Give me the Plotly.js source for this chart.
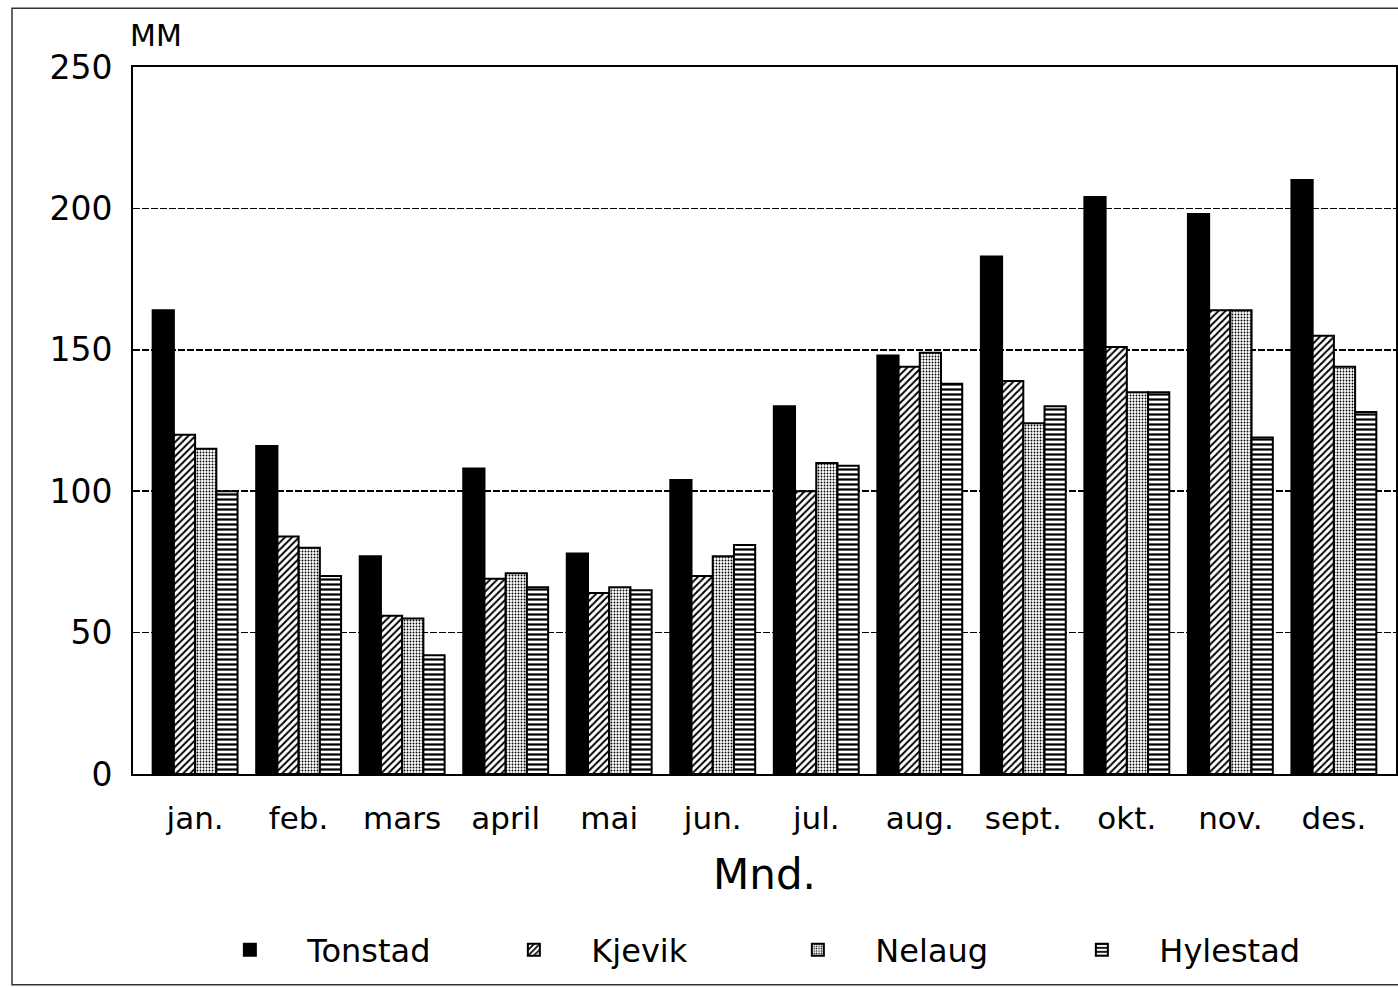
<!DOCTYPE html>
<html>
<head>
<meta charset="utf-8">
<script src="https://cdn.plot.ly/plotly-3.0.1.min.js"></script>
<style>html,body{margin:0;padding:0;background:#fff;}#chart{width:1398px;height:987px;}</style>
</head>
<body>
<div id="chart"></div>
<script>
const months = ["jan.", "feb.", "mars", "april", "mai", "jun.", "jul.", "aug.", "sept.", "okt.", "nov.", "des."];
const tonstad  = [164, 116, 77, 108, 78, 104, 130, 148, 183, 204, 198, 210];
const kjevik   = [120, 84, 56, 69, 64, 70, 100, 144, 139, 151, 164, 155];
const nelaug   = [115, 80, 55, 71, 66, 77, 110, 149, 124, 135, 164, 144];
const hylestad = [100, 70, 42, 66, 65, 81, 109, 138, 130, 135, 119, 128];
const yTicks = [0, 50, 100, 150, 200, 250];

const line = {color: '#000', width: 2};
const traces = [
  {name: 'Tonstad', x: months, y: tonstad, type: 'bar',
   marker: {color: '#000', line: line}},
  {name: 'Kjevik', x: months, y: kjevik, type: 'bar',
   marker: {color: '#fff', line: line,
     pattern: {shape: '/', fgcolor: '#000', bgcolor: '#fff', size: 5, solidity: 0.4, fillmode: 'replace'}}},
  {name: 'Nelaug', x: months, y: nelaug, type: 'bar',
   marker: {color: '#fff', line: line,
     pattern: {shape: '.', fgcolor: '#000', bgcolor: '#fff', size: 3, solidity: 0.3, fillmode: 'replace'}}},
  {name: 'Hylestad', x: months, y: hylestad, type: 'bar',
   marker: {color: '#fff', line: line,
     pattern: {shape: '-', fgcolor: '#000', bgcolor: '#fff', size: 5, solidity: 0.45, fillmode: 'replace'}}}
];

const FONT = '"DejaVu Sans", Verdana, sans-serif';
const layout = {
  width: 1398, height: 987,
  margin: {l: 133, r: 2, t: 67, b: 213, autoexpand: false},
  paper_bgcolor: '#fff', plot_bgcolor: '#fff',
  font: {family: FONT, color: '#000', size: 31},
  barmode: 'group', bargap: 0.18, bargroupgap: 0,
  xaxis: {
    type: 'category', range: [-0.6, 11.6], automargin: false,
    showline: true, linecolor: '#000', linewidth: 2, mirror: true,
    showgrid: false, ticks: '', tickfont: {size: 31}, ticklabelstandoff: 16,
    title: {text: 'Mnd.', font: {size: 42}, standoff: 24}
  },
  yaxis: {
    range: [0, 250], tickvals: yTicks, ticktext: yTicks.map(String), automargin: false,
    showline: true, linecolor: '#000', linewidth: 2, mirror: true,
    showgrid: true, gridcolor: '#000', gridwidth: 1.5, griddash: '7px,2px',
    zeroline: false, ticks: '', tickfont: {size: 33}, ticklabelstandoff: 12
  },
  showlegend: true,
  legend: {
    orientation: 'h', x: 0.047, xanchor: 'left', y: -0.249, yanchor: 'middle',
    font: {size: 32}, itemwidth: 105, traceorder: 'normal', entrywidth: 164,
    bgcolor: 'rgba(0,0,0,0)'
  },
  annotations: [
    {text: 'MM', xref: 'paper', yref: 'paper', x: 0, y: 1.044, xanchor: 'left', yanchor: 'middle',
     xshift: -5, showarrow: false, font: {size: 30}}
  ],
  shapes: [
    {type: 'rect', xref: 'paper', yref: 'paper', x0: -0.0958, x1: 1.01, y0: -0.298, y1: 1.083,
     line: {color: '#333', width: 1.5}, fillcolor: 'rgba(0,0,0,0)', layer: 'below'}
  ]
};

Plotly.newPlot('chart', traces, layout, {displayModeBar: false, staticPlot: true});
</script>
</body>
</html>
